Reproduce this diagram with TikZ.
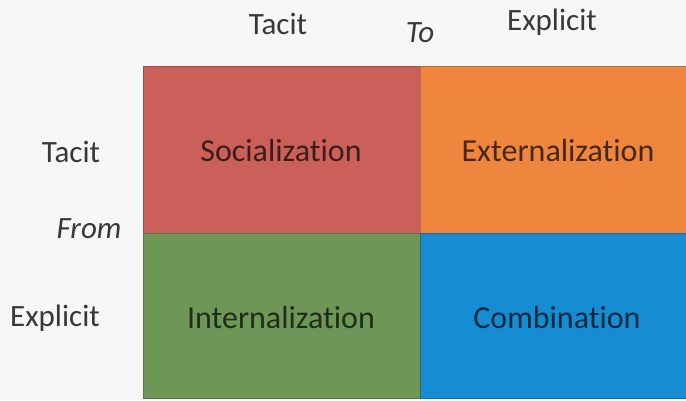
\documentclass[tikz,border=0pt]{standalone}
\usepackage{fontspec}
\setmainfont{Carlito}[Ligatures=NoCommon]
\begin{document}
\begin{tikzpicture}[x=1pt,y=-1pt,
  cell/.style={draw=#1!80!black, line width=0.8pt},
  celltext/.style={font=\fontsize{32}{32}\selectfont, text=#1},
  axis/.style={font=\fontsize{31}{31}\selectfont, text=black!78},
  axisit/.style={font=\fontsize{31}{31}\selectfont\itshape, text=black!78}]
\definecolor{bgpaper}{RGB}{246,246,248}
\definecolor{socred}{RGB}{203,96,90}
\definecolor{extorange}{RGB}{238,134,62}
\definecolor{intgreen}{RGB}{110,150,86}
\definecolor{combblue}{RGB}{22,140,210}
% page and fixed frame
\fill[bgpaper] (0,0) rectangle (686,400);
\useasboundingbox (0,0) rectangle (686,400);
% the four quadrants
\filldraw[cell=socred, fill=socred] (143,66) rectangle (420,233);
\filldraw[cell=extorange, fill=extorange] (420,66) rectangle (690,233);
\filldraw[cell=intgreen, fill=intgreen] (143,233) rectangle (420,398);
\filldraw[cell=combblue, fill=combblue] (420,233) rectangle (690,398);
% quadrant names
\node[celltext=socred!30!black] (soc) at (281,151) {Socialization};
\node[celltext=extorange!30!black] (ext) at (558,151) {Externalization};
\node[celltext=intgreen!30!black] (int) at (281,318) {Internalization};
\node[celltext=combblue!30!black] (comb) at (557,318) {Combination};
% axis labels
\node[axis] (toTacit) at (278,24) {Tacit};
\node[axisit] (to) at (420,33) {To};
\node[axis] (toExplicit) at (552,22) {Explicit};
\node[axis] (fromTacit) at (71,152) {Tacit};
\node[axisit] (from) at (89,229) {From};
\node[axis] (fromExplicit) at (55,318) {Explicit};
\end{tikzpicture}
\end{document}
